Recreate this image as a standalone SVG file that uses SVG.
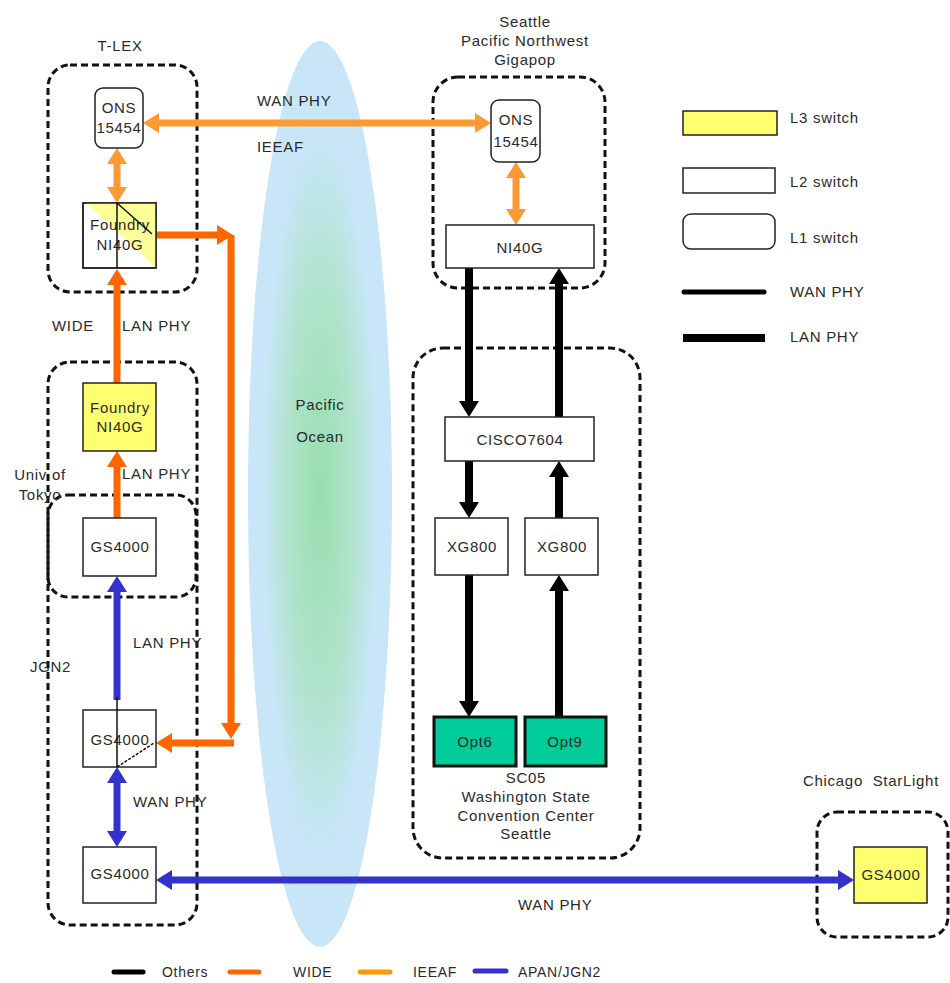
<svg xmlns="http://www.w3.org/2000/svg" width="950" height="983" viewBox="0 0 950 983">
<style>
text{font-family:"Liberation Sans",Arial,sans-serif;font-size:15px;fill:#2a2a2a;letter-spacing:0.7px;white-space:pre}
.c{text-anchor:middle}
.sm{font-size:14px}
.box{fill:#fff;stroke:#222;stroke-width:1.5}
.l3{fill:#ffff70;stroke:#222;stroke-width:1.5}
.opt{fill:#00cc99;stroke:#111;stroke-width:3}
.grp{fill:none;stroke:#111;stroke-width:3;stroke-dasharray:7 4}
.wide{stroke:#ff6600;stroke-width:7;fill:none}
.ieeaf{stroke:#ff9933;stroke-width:7;fill:none}
.apan{stroke:#3333cc;stroke-width:7;fill:none}
.oth{stroke:#000;stroke-width:8;fill:none}
.thin{stroke:#111;stroke-width:1.5;fill:none}
</style>
<defs>
<radialGradient id="sea" cx="0.5" cy="0.5" r="0.5">
<stop offset="0" stop-color="#98deae"/>
<stop offset="0.45" stop-color="#b0e3cc"/>
<stop offset="0.8" stop-color="#c8e6f8"/>
<stop offset="1" stop-color="#c8e6f8"/>
</radialGradient>
<marker id="aW" viewBox="0 0 16 20" markerWidth="16" markerHeight="20" refX="8" refY="10" orient="auto-start-reverse" markerUnits="userSpaceOnUse"><path d="M0,0 L16,10 L0,20 z" fill="#ff6600"/></marker>
<marker id="aI" viewBox="0 0 16 20" markerWidth="16" markerHeight="20" refX="8" refY="10" orient="auto-start-reverse" markerUnits="userSpaceOnUse"><path d="M0,0 L16,10 L0,20 z" fill="#ff9933"/></marker>
<marker id="aA" viewBox="0 0 16 20" markerWidth="16" markerHeight="20" refX="8" refY="10" orient="auto-start-reverse" markerUnits="userSpaceOnUse"><path d="M0,0 L16,10 L0,20 z" fill="#3333cc"/></marker>
<marker id="aK" viewBox="0 0 16 20" markerWidth="16" markerHeight="20" refX="8" refY="10" orient="auto-start-reverse" markerUnits="userSpaceOnUse"><path d="M0,0 L16,10 L0,20 z" fill="#000"/></marker>
</defs>
<rect width="950" height="983" fill="#fff"/>

<g id="ocean">
<ellipse cx="320" cy="494" rx="72" ry="453" fill="url(#sea)"/>
<text class="c" x="320" y="410">Pacific</text>
<text class="c" x="320" y="442">Ocean</text>
</g>

<g id="containers">
<g id="tlex"><rect class="grp" x="48" y="65" width="149" height="227" rx="22"/><text class="c" x="120" y="51">T-LEX</text></g>
<g id="jgn2"><rect class="grp" x="48" y="362" width="149" height="563" rx="22"/><text x="30" y="672">JGN2</text></g>
<g id="utokyo"><rect class="grp" x="48" y="495" width="148" height="102" rx="20"/><text class="c" x="40" y="480">Univ of</text><text class="c" x="40" y="500">Tokyo</text></g>
<g id="seattle"><rect class="grp" x="433" y="77" width="172" height="211" rx="25"/><text class="c" x="525" y="27">Seattle</text><text class="c" x="525" y="46">Pacific Northwest</text><text class="c" x="525" y="65">Gigapop</text></g>
<g id="sc05"><rect class="grp" x="413" y="348" width="227" height="510" rx="30"/><text class="c" x="526" y="783">SC05</text><text class="c" x="526" y="802">Washington State</text><text class="c" x="526" y="821">Convention Center</text><text class="c" x="526" y="839">Seattle</text></g>
<g id="chicago"><rect class="grp" x="817" y="812" width="131" height="125" rx="20"/><text x="803" y="786">Chicago  StarLight</text></g>
</g>

<g id="connectors">
<path class="ieeaf" d="M151,123 H483" marker-start="url(#aI)" marker-end="url(#aI)"/>
<path class="ieeaf" d="M117,156 V195" marker-start="url(#aI)" marker-end="url(#aI)"/>
<path class="ieeaf" d="M516,170 V217" marker-start="url(#aI)" marker-end="url(#aI)"/>
<path class="wide" d="M117,383 V277" marker-end="url(#aW)"/>
<path class="wide" d="M117,518 V459" marker-end="url(#aW)"/>
<path class="wide" d="M152,235 H225" marker-end="url(#aW)"/>
<path class="wide" d="M231,235 V731" marker-end="url(#aW)"/>
<path class="wide" d="M234,743 H164" marker-end="url(#aW)"/>
<path class="apan" d="M117,700 V584" marker-end="url(#aA)"/>
<path class="apan" d="M117,775 V839" marker-start="url(#aA)" marker-end="url(#aA)"/>
<path class="apan" d="M164,880 H846" marker-start="url(#aA)" marker-end="url(#aA)"/>
<path class="oth" d="M469,268 V409" marker-end="url(#aK)"/>
<path class="oth" d="M559,417 V276" marker-end="url(#aK)"/>
<path class="oth" d="M469,461 V510" marker-end="url(#aK)"/>
<path class="oth" d="M559,518 V469" marker-end="url(#aK)"/>
<path class="oth" d="M469,575 V709" marker-end="url(#aK)"/>
<path class="oth" d="M559,717 V583" marker-end="url(#aK)"/>
<text x="257" y="106">WAN PHY</text>
<text x="257" y="152">IEEAF</text>
<text x="52" y="331">WIDE</text>
<text x="122" y="331">LAN PHY</text>
<text x="122" y="479">LAN PHY</text>
<text x="133" y="648">LAN PHY</text>
<text x="133" y="807">WAN PHY</text>
<text x="518" y="910">WAN PHY</text>
</g>

<g id="ons-tlex"><rect class="box" x="95" y="88" width="48" height="60" rx="8"/><text class="c" x="119" y="113">ONS</text><text class="c" x="119" y="133">15454</text></g>
<g id="foundry-tlex"><rect class="box" x="83" y="203" width="73" height="65"/><polygon points="86,203 156,203 156,268" fill="#ffff99"/><rect x="83" y="203" width="73" height="65" fill="none" stroke="#222" stroke-width="1.5"/><text class="c" x="120" y="230">Foundry</text><text class="c" x="120" y="250">NI40G</text><path class="thin" d="M117,203 V268 M117,203 L152,234"/></g>
<g id="foundry-tokyo"><rect class="l3" x="83" y="383" width="73" height="68" fill="#ffff99"/><text class="c" x="120" y="413">Foundry</text><text class="c" x="120" y="432">NI40G</text></g>
<g id="gs4000-top"><rect class="box" x="83" y="518" width="73" height="58"/><text class="c" x="120" y="552">GS4000</text></g>
<g id="gs4000-mid"><rect class="box" x="83" y="710" width="73" height="57"/><text class="c" x="120" y="745">GS4000</text><path class="thin" d="M117,697 V767"/><path class="thin" d="M117,767 L154,743" stroke-dasharray="3 1.5"/></g>
<g id="gs4000-bot"><rect class="box" x="83" y="847" width="73" height="56"/><text class="c" x="120" y="879">GS4000</text></g>
<g id="ons-seattle"><rect class="box" x="491" y="100" width="49" height="62" rx="8"/><text class="c" x="516" y="125">ONS</text><text class="c" x="516" y="147">15454</text></g>
<g id="ni40g-seattle"><rect class="box" x="446" y="225" width="148" height="43"/><text class="c" x="520" y="253">NI40G</text></g>
<g id="cisco7604"><rect class="box" x="445" y="417" width="149" height="44"/><text class="c" x="520" y="445">CISCO7604</text></g>
<g id="xg800-l"><rect class="box" x="435" y="518" width="73" height="57"/><text class="c" x="472" y="552">XG800</text></g>
<g id="xg800-r"><rect class="box" x="525" y="518" width="73" height="57"/><text class="c" x="562" y="552">XG800</text></g>
<g id="opt6"><rect class="opt" x="434" y="717" width="82" height="49"/><text class="c" x="475" y="747">Opt6</text></g>
<g id="opt9"><rect class="opt" x="525" y="717" width="81" height="49"/><text class="c" x="565" y="747">Opt9</text></g>
<g id="gs4000-chicago"><rect class="l3" x="854" y="847" width="73" height="56"/><text class="c" x="891" y="880">GS4000</text></g>

<g id="legend">
<rect class="l3" x="683" y="111" width="94" height="24"/><text x="790" y="123">L3 switch</text>
<rect class="box" x="683" y="168" width="92" height="25"/><text x="790" y="187">L2 switch</text>
<rect class="box" x="683" y="214" width="92" height="35" rx="8"/><text x="790" y="243">L1 switch</text>
<path d="M684,292 H764" stroke="#000" stroke-width="5" stroke-linecap="round"/><text x="790" y="297">WAN PHY</text>
<path d="M683,338 H765" stroke="#000" stroke-width="8"/><text x="790" y="342">LAN PHY</text>
<path d="M114,972 H143" stroke="#000" stroke-width="5" stroke-linecap="round"/><text class="sm" x="162" y="977">Others</text>
<path d="M230,972 H259" stroke="#ff6600" stroke-width="5" stroke-linecap="round"/><text class="sm" x="293" y="977">WIDE</text>
<path d="M360,972 H390" stroke="#ff9900" stroke-width="5" stroke-linecap="round"/><text class="sm" x="413" y="977">IEEAF</text>
<path d="M475,971 H506" stroke="#3333cc" stroke-width="5" stroke-linecap="round"/><text class="sm" x="518" y="977">APAN/JGN2</text>
</g>
</svg>
